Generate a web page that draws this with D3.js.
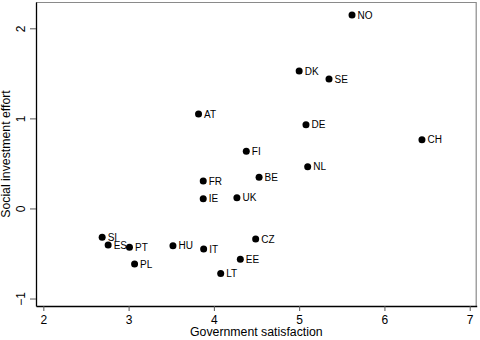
<!DOCTYPE html>
<html>
<head>
<meta charset="utf-8">
<script src="https://cdn.jsdelivr.net/npm/d3@7"></script>
<style>
  body { margin: 0; background: #fff; }
  svg { display: block; font-family: "Liberation Sans", Arial, Helvetica, sans-serif; }
</style>
</head>
<body>
<svg id="chart" width="480" height="340"></svg>
<script>
// country codes, government satisfaction, social investment effort
const countries = ['NO', 'DK', 'SE', 'AT', 'DE', 'CH', 'FI', 'NL', 'FR', 'BE', 'IE', 'UK',
    'SI', 'ES', 'PT', 'HU', 'IT', 'CZ', 'EE', 'PL', 'LT']
const satisfaction = [5.62, 5.00, 5.35, 3.82, 5.08, 6.44, 4.38, 5.10, 3.875, 4.53, 3.875, 4.27,
    2.69, 2.76, 3.01, 3.52, 3.88, 4.49, 4.31, 3.07, 4.08]
const effort = [2.147, 1.525, 1.436, 1.048, 0.929, 0.763, 0.634, 0.463, 0.304, 0.345, 0.108, 0.119,
    -0.321, -0.406, -0.432, -0.414, -0.450, -0.340, -0.565, -0.617, -0.721]

const xTicks = [2, 3, 4, 5, 6, 7]
const yTicks = [-1, 0, 1, 2]

const margin = { top: 2, left: 36, right: 3.3, bottom: 34 }
const width = 480 - margin.left - margin.right
const height = 340 - margin.top - margin.bottom

const svg = d3.select('#chart')
const g = svg.append('g')
    .attr('transform', 'translate(' + margin.left + ',' + margin.top + ')')

const x = d3.scaleLinear().domain([1.914, 7.082]).range([0, width])
const y = d3.scaleLinear().domain([-1.083, 2.292]).range([height, 0])

// frame top + right (gray)
g.append('path')
    .attr('d', 'M0,0.5H' + (width - 0.5) + 'V' + height)
    .attr('fill', 'none')
    .attr('stroke', '#8a8a8a')
    .attr('stroke-width', 1.2)

// x axis
const xAxis = g.append('g')
    .attr('transform', 'translate(0,' + height + ')')
    .call(d3.axisBottom(x).tickValues(xTicks).tickFormat(d3.format('d'))
        .tickSize(5).tickPadding(4).tickSizeOuter(0))
xAxis.select('.domain').attr('stroke', '#000').attr('stroke-width', 1.3)
xAxis.selectAll('.tick line').attr('stroke', '#555')
xAxis.selectAll('.tick text')
    .attr('fill', '#000')
    .style('font-size', '12px')
    .style('font-family', '"Liberation Sans", Arial, sans-serif')

// y axis
const yAxis = g.append('g')
    .call(d3.axisLeft(y).tickValues(yTicks).tickFormat(d3.format('d'))
        .tickSize(6).tickSizeOuter(0))
yAxis.select('.domain').attr('stroke', '#000').attr('stroke-width', 1.3)
yAxis.selectAll('.tick line').attr('stroke', '#555')
yAxis.selectAll('.tick text')
    .attr('fill', '#000')
    .attr('x', null)
    .attr('dy', null)
    .attr('text-anchor', 'middle')
    .attr('transform', 'translate(-11,0) rotate(-90)')
    .style('font-size', '12px')
    .style('font-family', '"Liberation Sans", Arial, sans-serif')

// axis titles
svg.append('text')
    .attr('x', margin.left + width / 2)
    .attr('y', 336)
    .attr('text-anchor', 'middle')
    .style('font-size', '12.3px')
    .text('Government satisfaction')

svg.append('text')
    .attr('transform', 'translate(10,' + (margin.top + height / 2) + ') rotate(-90)')
    .attr('text-anchor', 'middle')
    .style('font-size', '12.3px')
    .text('Social investment effort')

// points
const points = countries.map((c, i) => ({ code: c, sx: satisfaction[i], ey: effort[i] }))

const pt = g.selectAll('g.pt')
    .data(points)
    .join('g')
    .attr('class', 'pt')
    .attr('transform', d => 'translate(' + x(d.sx) + ',' + y(d.ey) + ')')

pt.append('circle')
    .attr('r', 3.5)
    .attr('fill', '#000')

pt.append('text')
    .attr('x', 5.5)
    .attr('dy', '0.36em')
    .style('font-size', '10px')
    .text(d => d.code)
</script>
</body>
</html>
